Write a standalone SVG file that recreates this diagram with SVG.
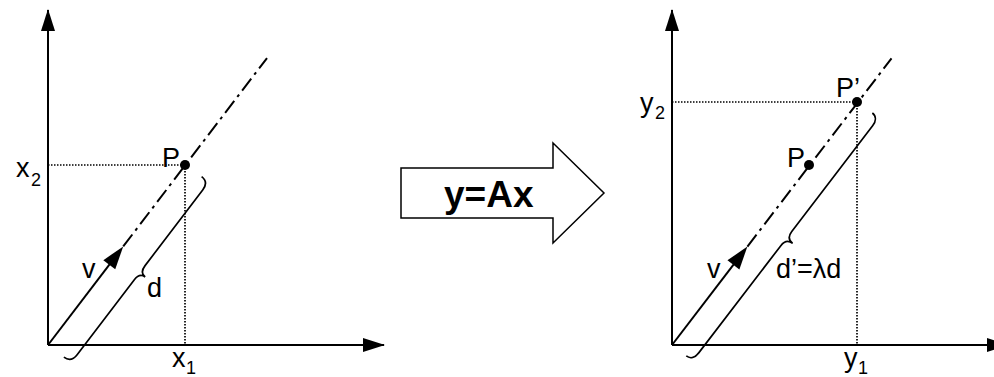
<svg xmlns="http://www.w3.org/2000/svg" width="994" height="377" viewBox="0 0 994 377">
<style>
.ax{stroke:#000;stroke-width:2;fill:none}
.dot{stroke:#000;stroke-width:1.7;stroke-dasharray:1.5 1.5;fill:none}
.dd{stroke:#000;stroke-width:2;stroke-dasharray:15 5 3 5;fill:none}
.br{stroke:#000;stroke-width:1.7;fill:none}
.t{font-family:"Liberation Sans",Arial,sans-serif;font-size:27px;fill:#000}
.s{font-family:"Liberation Sans",Arial,sans-serif;font-size:18px;fill:#000}
.b{font-family:"Liberation Sans",Arial,sans-serif;font-size:37px;font-weight:bold;fill:#000}
</style>
<defs>
<marker id="ah" markerWidth="22" markerHeight="14" refX="21" refY="7" orient="auto" markerUnits="userSpaceOnUse">
<path d="M0,0 L22,7 L0,14 Z" fill="#000"/>
</marker>
</defs>
<rect width="994" height="377" fill="#fff"/>
<g id="left-panel">
<g id="left-axes">
<line class="ax" x1="48" y1="345" x2="48" y2="10" marker-end="url(#ah)"/>
<line class="ax" x1="48" y1="345" x2="384" y2="345" marker-end="url(#ah)"/>
</g>
<g id="left-guides">
<line class="dot" x1="48" y1="165" x2="185" y2="165"/>
<line class="dot" x1="185" y1="165" x2="185" y2="345"/>
</g>
<g id="left-vector" transform="translate(48,345) rotate(-52.65)">
<line class="ax" x1="0" y1="0" x2="104" y2="0"/>
<polygon points="124,0 101,-7.5 101,7.5" fill="#000"/>
<line class="dd" x1="124" y1="0" x2="361" y2="0"/>
<path class="br" d="M0,20 C0,26 4,29 10,29 L104,29 C110,29 113,31 113,36 C113,31 116,29 122,29 L217,29 C223,29 227,26 227,20"/>
</g>
<g id="left-P"><circle cx="185" cy="165" r="5" fill="#000"/><text class="t" x="162" y="167">P</text></g>
<g id="left-labels">
<text class="t" x="16" y="177">x</text><text class="s" x="31" y="186">2</text>
<text class="t" x="172" y="367">x</text><text class="s" x="186" y="374">1</text>
<text class="t" x="82" y="278">v</text>
<text class="t" x="147" y="297">d</text>
</g>
</g>
<g id="transform-arrow">
<polygon points="401,168 553,168 553,143 604,193 553,243 553,218 401,218" fill="#fff" stroke="#000" stroke-width="1.5"/>
<text class="b" x="444" y="207">y=Ax</text>
</g>
<g id="right-panel">
<g id="right-axes">
<line class="ax" x1="672" y1="345" x2="672" y2="10" marker-end="url(#ah)"/>
<line class="ax" x1="672" y1="345" x2="1008" y2="345" marker-end="url(#ah)"/>
</g>
<g id="right-guides">
<line class="dot" x1="672" y1="102" x2="857" y2="102"/>
<line class="dot" x1="857" y1="102" x2="857" y2="345"/>
</g>
<g id="right-vector" transform="translate(672,345) rotate(-52.55)">
<line class="ax" x1="0" y1="0" x2="104" y2="0"/>
<polygon points="124,0 101,-7.5 101,7.5" fill="#000"/>
<line class="dd" x1="124" y1="0" x2="361" y2="0"/>
<path class="br" d="M0,18 C0,23 4,26 10,26 L145,26 C151,26 154,29 154,34 C154,29 157,26 163,26 L296,26 C302,26 306,23 306,18"/>
</g>
<g id="right-P"><circle cx="809" cy="165" r="5" fill="#000"/><text class="t" x="787" y="167">P</text></g>
<g id="right-Pp"><circle cx="857" cy="102" r="5" fill="#000"/><text class="t" x="836" y="97">P’</text></g>
<g id="right-labels">
<text class="t" x="640" y="112">y</text><text class="s" x="655" y="119">2</text>
<text class="t" x="844" y="367">y</text><text class="s" x="858" y="374">1</text>
<text class="t" x="707" y="278">v</text>
<text class="t" x="776" y="278">d’=λd</text>
</g>
</g>
</svg>
